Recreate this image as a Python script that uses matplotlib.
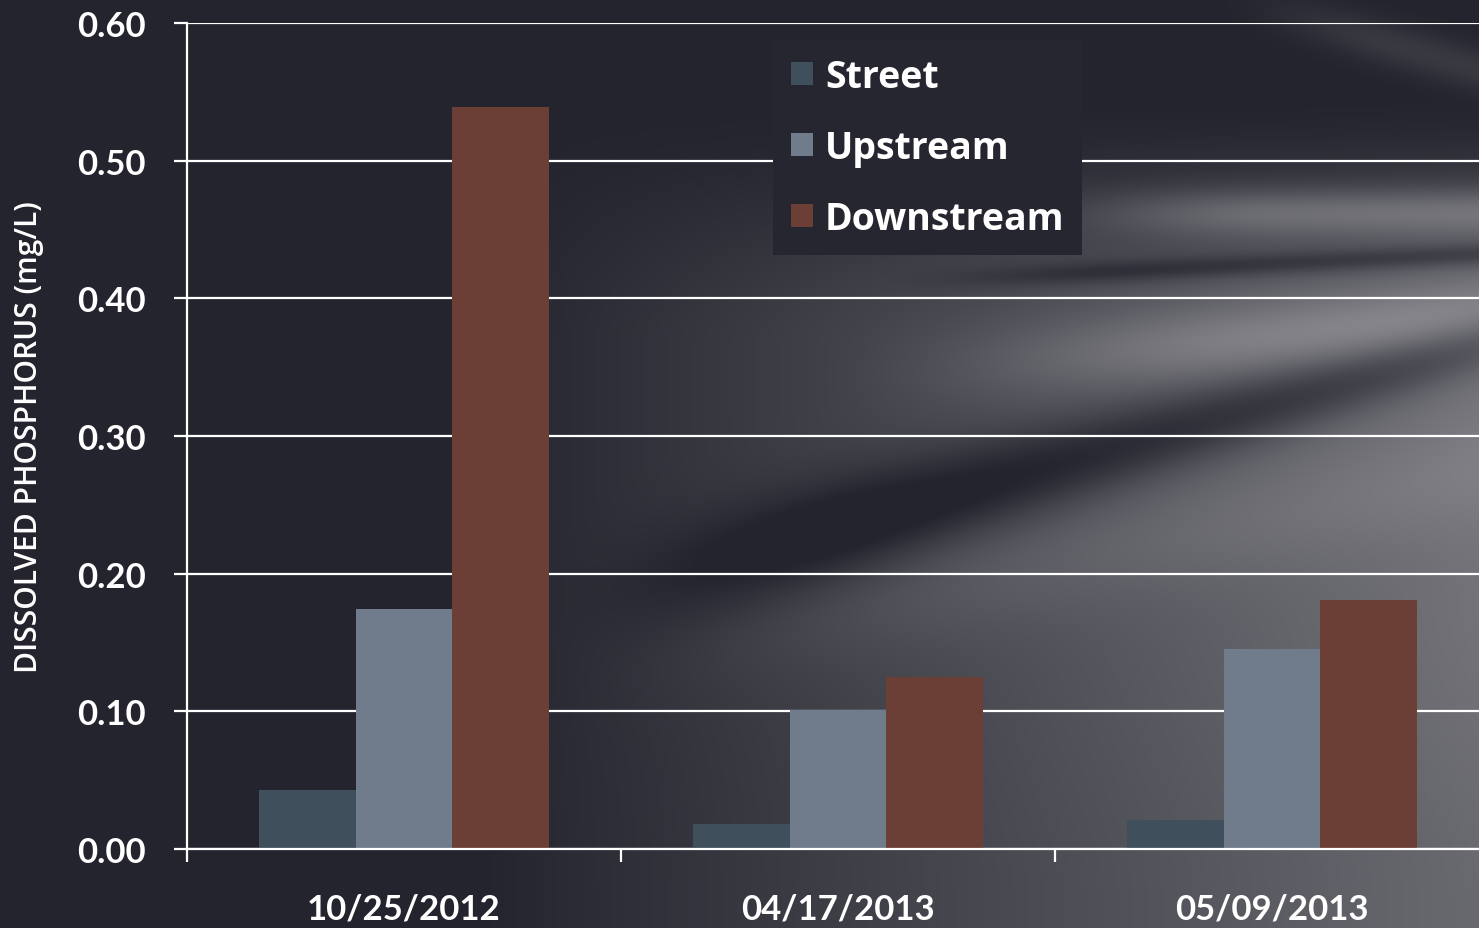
import numpy as np
import matplotlib
matplotlib.use("Agg")
import matplotlib.pyplot as plt
from matplotlib.ticker import FixedLocator, FormatStrFormatter

# ---- data ----
dates = ["10/25/2012", "04/17/2013", "05/09/2013"]
street = [0.043, 0.018, 0.021]
upstream = [0.174, 0.101, 0.145]
downstream = [0.539, 0.125, 0.181]
series_names = ["Street", "Upstream", "Downstream"]
series_colors = ["#404f5c", "#707c8b", "#6b3f36"]
y_ticks = [0.0, 0.1, 0.2, 0.3, 0.4, 0.5, 0.6]

W, H = 1479, 929
fig = plt.figure(figsize=(W / 100, H / 100), dpi=100)

# ---- background: dark left, grey streaky right ----
yy, xx = np.mgrid[0:H, 0:W].astype(float)

def smooth(t):
    t = np.clip(t, 0, 1)
    return t * t * (3 - 2 * t)

def band(x0, y0, x1, y1, width):
    dx, dy = x1 - x0, y1 - y0
    n = np.hypot(dx, dy)
    d = ((xx - x0) * dy - (yy - y0) * dx) / n
    return np.exp(-(d / width) ** 2)

ramp = np.clip((xx - 480) / 1000, 0, 1) ** 0.95
t = 0.74 * ramp * smooth((yy - 90) / 260) * (1 - 0.12 * smooth((yy - 600) / 300))
t += 0.20 * band(1230, 0, 1479, 70, 22) * smooth((xx - 1200) / 200)
t += 0.42 * band(1000, 214, 1479, 212, 24) * smooth((xx - 980) / 300)
t -= 0.28 * band(880, 283, 1479, 255, 11) * smooth((xx - 850) / 300)
t += 0.30 * band(900, 372, 1479, 318, 38) * smooth((xx - 800) / 450)
t -= 0.42 * band(620, 590, 1479, 345, 28 + 0.03 * (1479 - xx)) * smooth((xx - 540) / 350)
t += 0.12 * band(560, 670, 1479, 470, 55) * smooth((xx - 500) / 500)
t = np.clip(t, 0, 1)
dark = np.array([36, 36, 46]) / 255.0
light = np.array([142, 142, 147]) / 255.0
img = dark[None, None, :] + t[..., None] * (light - dark)[None, None, :]

bg = fig.add_axes([0, 0, 1, 1], zorder=0)
bg.imshow(img, aspect="auto", extent=[0, W, H, 0], interpolation="bilinear")
bg.set_axis_off()

# ---- main axes ----
left, right, top, bottom = 187, 1479, 24, 850
ax = fig.add_axes([left / W, (H - bottom) / H, (right - left) / W, (bottom - top) / H], zorder=1)
ax.patch.set_alpha(0)

x = np.arange(len(dates))
bw = 0.222
for i, (vals, name, col) in enumerate(zip([street, upstream, downstream], series_names, series_colors)):
    ax.bar(x + (i - 1) * bw, vals, width=bw, color=col, label=name, zorder=3, linewidth=0)

ax.set_ylim(0, 0.6)
ax.set_xlim(-0.5, -0.5 + (right - left) / 434.0)
ax.yaxis.set_major_locator(FixedLocator(y_ticks))
ax.yaxis.set_major_formatter(FormatStrFormatter("%.2f"))
ax.grid(axis="y", color="white", linewidth=1.6, zorder=1)
ax.set_axisbelow(True)

for s in ["top", "right"]:
    ax.spines[s].set_visible(False)
for s in ["left", "bottom"]:
    ax.spines[s].set_color("white")
    ax.spines[s].set_linewidth(1.6)
    ax.spines[s].set_zorder(4)

ax.set_xticks(x)
ax.set_xticklabels(dates)
ax.set_xticks([-0.5, 0.5, 1.5], minor=True)
ax.tick_params(axis="x", which="major", length=0, pad=31, labelsize=25, labelcolor="white")
ax.tick_params(axis="x", which="minor", length=9, width=1.6, color="white", direction="out")
ax.tick_params(axis="y", which="major", length=9.5, width=1.6, color="white", pad=20,
               labelsize=25, labelcolor="white")
for lab in ax.get_xticklabels() + ax.get_yticklabels():
    lab.set_fontfamily(["Lato", "DejaVu Sans"])
    lab.set_fontweight("bold")

ax.set_ylabel("DISSOLVED PHOSPHORUS (mg/L)", color="white", fontsize=21.5,
              fontfamily=["Open Sans", "DejaVu Sans"], fontweight="semibold")
ax.yaxis.set_label_coords((44 - left) / (right - left), 0.5)

leg = ax.legend(loc="upper left",
                bbox_to_anchor=((773 - left) / (right - left), 1 - (41 - top) / (bottom - top)),
                frameon=True, fancybox=False, framealpha=1, facecolor="#262630",
                edgecolor="none", borderpad=0.47, labelspacing=0.88,
                handlelength=0.6, handleheight=0.6, handletextpad=0.32, borderaxespad=0,
                prop={"family": ["Open Sans", "DejaVu Sans"], "weight": "bold", "size": 27})
leg.set_zorder(5)
for txt in leg.get_texts():
    txt.set_color("white")

fig.savefig("out.png", dpi=100)
